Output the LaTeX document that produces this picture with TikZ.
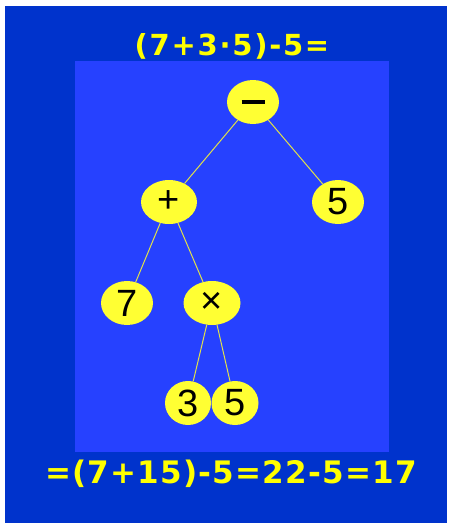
\documentclass[tikz,border=0pt]{standalone}
\usepackage{fontspec}
\usepackage{tikz}
\usetikzlibrary{shapes.geometric}
\setmainfont{Liberation Sans}
\newfontfamily\eqfont[LetterSpace=6]{DejaVu Sans}
\newfontfamily\resfont[LetterSpace=4]{DejaVu Sans}
\definecolor{figDark}{HTML}{0033CC}
\definecolor{figPanel}{HTML}{2641FF}
\definecolor{figYellow}{HTML}{FFFF33}
\definecolor{figText}{HTML}{FFFF00}
\definecolor{figEdge}{HTML}{E0E04A}

\begin{document}
\begin{tikzpicture}[
  x=1pt, y=-1pt,
  every node/.style={font=\fontsize{38}{40}\selectfont},
  leaf/.style={ellipse, fill=figYellow, inner sep=0pt,
             minimum width=52pt, minimum height=44pt, text=black},
  eqline/.style={font=\eqfont\bfseries\fontsize{29}{31}\selectfont, text=figText, inner sep=0pt},
  edge/.style={figEdge, line width=1pt},
]

% Frame and panel
\useasboundingbox (0,0) rectangle (452,523);
\fill[white] (0,0) rectangle (452,523);
\fill[figDark] (5,6) rectangle (447,523);
\fill[figPanel] (75,61) rectangle (389,452);

% Tree nodes
\node[leaf] (minus) at (253,102) {\rule{23pt}{4pt}};
\node[leaf, minimum width=56pt] (plus) at (169,202) {+};
\node[leaf] (five) at (338,202) {5};
\node[leaf] (seven) at (127,303) {7};
\node[leaf, minimum width=57pt] (times) at (212,303) {×};
\node[leaf, minimum width=46pt] (three) at (188,403) {3};
\node[leaf, minimum width=47pt] (fiveb) at (235,403) {5};

% Edges
\draw[edge] (minus) -- (plus);
\draw[edge] (minus) -- (five);
\draw[edge] (plus) -- (seven);
\draw[edge] (plus) -- (times);
\draw[edge] (times) -- (three);
\draw[edge] (times) -- (fiveb);

% Equations
\node[eqline] (title) at (232,46) {(7+3·5)-5=};
\node[eqline, font=\resfont\bfseries\fontsize{31}{33}\selectfont] (result) at (231,474) {=(7+15)-5=22-5=17};

\end{tikzpicture}
\end{document}
